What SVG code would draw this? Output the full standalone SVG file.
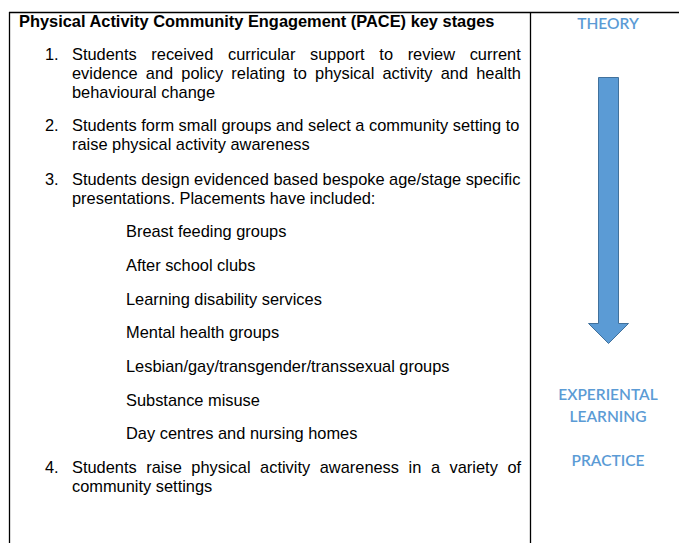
<svg xmlns="http://www.w3.org/2000/svg" width="679" height="543" viewBox="0 0 679 543">
<style>
.b{font-family:"Liberation Sans",Arial,sans-serif;font-size:16.4px;fill:#000}
.h{font-weight:bold}
.c{font-family:Lato,"Open Sans",sans-serif;font-size:15.5px;font-weight:600;fill:#5b9bd5;text-anchor:middle}
.ln{stroke:#000;stroke-width:1.3;fill:none}
</style>
<rect width="679" height="543" fill="#fff"/>
<g id="table">
<line class="ln" x1="9" y1="12.5" x2="679" y2="12.5"/>
<line class="ln" x1="9.5" y1="12" x2="9.5" y2="543"/>
<line class="ln" x1="530.5" y1="12" x2="530.5" y2="543"/>
</g>
<g id="stages">
<text class="b h" x="19" y="27">Physical Activity Community Engagement (PACE) key stages</text>
<text class="b" x="45" y="60">1.</text>
<text class="b" x="72" y="60" word-spacing="10.1">Students received curricular support to review current</text>
<text class="b" x="72" y="79" word-spacing="3.6">evidence and policy relating to physical activity and health</text>
<text class="b" x="72" y="98">behavioural change</text>
<text class="b" x="45" y="131">2.</text>
<text class="b" x="72" y="131">Students form small groups and select a community setting to</text>
<text class="b" x="72" y="150">raise physical activity awareness</text>
<text class="b" x="45" y="185">3.</text>
<text class="b" x="72" y="185">Students design evidenced based bespoke age/stage specific</text>
<text class="b" x="72" y="204">presentations. Placements have included:</text>
<text class="b" x="126" y="237">Breast feeding groups</text>
<text class="b" x="126" y="271">After school clubs</text>
<text class="b" x="126" y="305">Learning disability services</text>
<text class="b" x="126" y="338">Mental health groups</text>
<text class="b" x="126" y="372">Lesbian/gay/transgender/transsexual groups</text>
<text class="b" x="126" y="406">Substance misuse</text>
<text class="b" x="126" y="439">Day centres and nursing homes</text>
<text class="b" x="45" y="473">4.</text>
<text class="b" x="72" y="473" word-spacing="5">Students raise physical activity awareness in a variety of</text>
<text class="b" x="72" y="492">community settings</text>
</g>
<g id="theory">
<text class="c" x="608" y="29">THEORY</text>
</g>
<g id="arrow">
<path d="M598.5 77.5 H618.5 V323.5 H628.5 L608.5 343.5 L588.5 323.5 H598.5 Z" fill="#5b9bd5" stroke="#41719c" stroke-width="1"/>
</g>
<g id="practice">
<text class="c" x="608" y="400">EXPERIENTAL</text>
<text class="c" x="608" y="422">LEARNING</text>
<text class="c" x="608" y="466">PRACTICE</text>
</g>
</svg>
